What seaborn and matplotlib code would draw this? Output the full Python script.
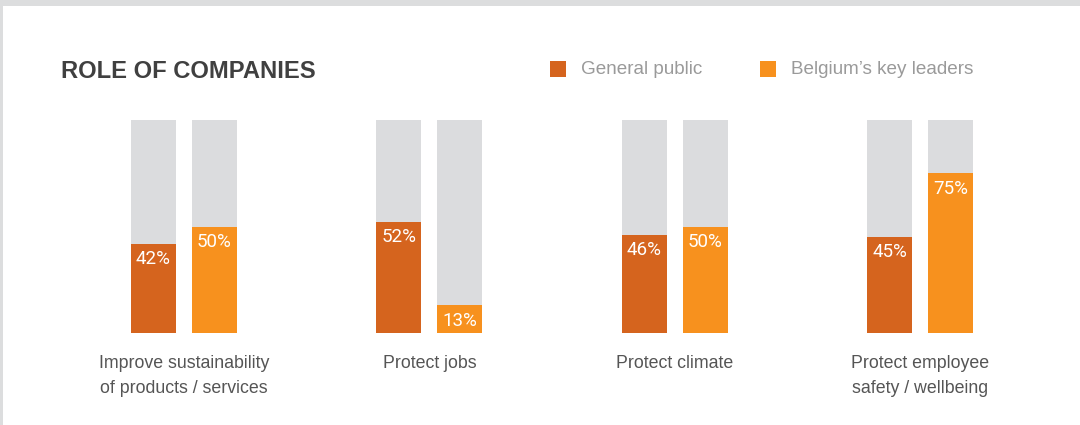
import matplotlib
matplotlib.use("Agg")
import matplotlib.pyplot as plt
from matplotlib.patches import Rectangle
import seaborn as sns
import pandas as pd

categories = ["Improve sustainability\nof products / services", "Protect jobs",
              "Protect climate", "Protect employee\nsafety / wellbeing"]
series = ["General public", "Belgium\u2019s key leaders"]
general_public = [42, 52, 46, 45]
key_leaders = [50, 13, 50, 75]
colors = ["#D5641E", "#F7911E"]
track_color = "#DBDCDE"

sns.set_theme(style="white")
plt.rcParams["font.family"] = ["Liberation Sans", "DejaVu Sans"]

rows = []
for i, c in enumerate(categories):
    rows.append({"cat": c, "series": series[0], "value": general_public[i], "full": 100})
    rows.append({"cat": c, "series": series[1], "value": key_leaders[i], "full": 100})
df = pd.DataFrame(rows)

W, H = 1080, 425
fig = plt.figure(figsize=(W / 100, H / 100), dpi=100)
fig.patch.set_facecolor("white")

# grey frame strips
fig.patches.append(Rectangle((0, 1 - 6 / H), 1, 6 / H, transform=fig.transFigure,
                             color="#DCDDDE", zorder=0, linewidth=0))
fig.patches.append(Rectangle((0, 0), 3 / W, 1, transform=fig.transFigure,
                             color="#DCDDDE", zorder=0, linewidth=0))

ax = fig.add_axes([0, 1 - 333 / H, 1, 213 / H])
ax.set_facecolor("none")

pitch = 245.5
slot = 61 / pitch
gap = 1 - (45 / pitch) / slot

sns.barplot(data=df, x="cat", y="full", hue="series", palette=[track_color, track_color],
            width=2 * slot, gap=gap, dodge=True, legend=False, ax=ax, saturation=1,
            errorbar=None, order=categories, hue_order=series, linewidth=0)
sns.barplot(data=df, x="cat", y="value", hue="series", palette=colors,
            width=2 * slot, gap=gap, dodge=True, legend=False, ax=ax, saturation=1,
            errorbar=None, order=categories, hue_order=series, linewidth=0)

ax.set_xlim(-184 / pitch, (W - 184) / pitch)
ax.set_ylim(0, 100)
ax.axis("off")

# value labels
value_containers = ax.containers[2:]
for cont in value_containers:
    for bar in cont:
        h = bar.get_height()
        ax.annotate(f"{int(round(h))}%", (bar.get_x() + bar.get_width() / 2, h),
                    xytext=(0, -4.5), textcoords="offset points", ha="center", va="top",
                    color="white", fontsize=13.5, fontweight="normal",
                    family=["Roboto", "Liberation Sans", "DejaVu Sans"])

# category labels
for i, c in enumerate(categories):
    ax.annotate(c, (i, 0), xytext=(0, -15.5), textcoords="offset points",
                ha="center", va="top", color="#555555", fontsize=12.8,
                linespacing=1.62)

# title
fig.text(61 / W, 1 - 72 / H, "ROLE OF COMPANIES", ha="left", va="center",
         fontsize=17.1, fontweight="bold", color="#404040")

# legend
legend_items = [(550, series[0], colors[0]), (760, series[1], colors[1])]
for x0, lab, col in legend_items:
    fig.patches.append(Rectangle((x0 / W, 1 - 77 / H), 16 / W, 16 / H,
                                 transform=fig.transFigure, color=col, linewidth=0))
    fig.text((x0 + 31) / W, 1 - 69 / H, lab, ha="left", va="center",
             fontsize=13.6, color="#9A9A9A")

fig.savefig("out.png", dpi=100)
